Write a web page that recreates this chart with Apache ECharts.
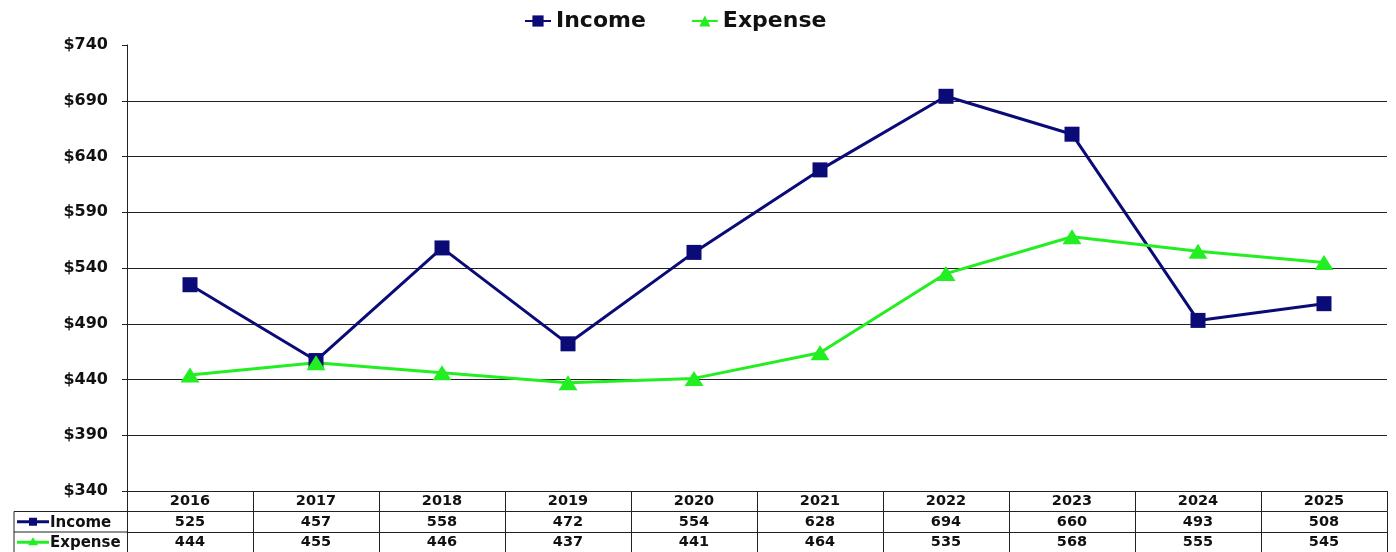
<!DOCTYPE html>
<html>
<head>
<meta charset="utf-8">
<script src="https://cdn.jsdelivr.net/npm/echarts@6/dist/echarts.min.js"></script>
<style>
  html, body { margin: 0; padding: 0; background: #fff; }
  #chart { width: 1396px; height: 552px; }
</style>
</head>
<body>
<div id="chart"></div>
<script>
// Yearly income vs expense, with a data table under the plot
const years = ['2016', '2017', '2018', '2019', '2020', '2021', '2022', '2023', '2024', '2025'];
const income = [525, 457, 558, 472, 554, 628, 694, 660, 493, 508];
const expense = [444, 455, 446, 437, 441, 464, 535, 568, 555, 545];
const seriesNames = ['Income', 'Expense'];
const yMin = 340, yMax = 740, yStep = 50;

const NAVY = '#0b0b78';
const LIME = '#22ee22';
const FONT = 'DejaVu Sans';

const chart = echarts.init(document.getElementById('chart'));

const GRID = { left: 127, right: 9, top: 45, bottom: 61 };
const ROW_H = 20.5;

// one category axis per table row; its ticks draw the cell walls
function tableAxis(labels, offset, showLabels) {
  return {
    type: 'category',
    gridIndex: 0,
    position: 'bottom',
    offset: offset,
    data: labels,
    boundaryGap: true,
    axisLine: { show: true, lineStyle: { color: '#222', width: 1 } },
    axisTick: { show: true, length: ROW_H, interval: 0, lineStyle: { color: '#222', width: 1 } },
    axisLabel: {
      show: showLabels, interval: 0, margin: 3,
      fontFamily: FONT, fontWeight: 'bold', fontSize: 14.5, color: '#111'
    },
    splitLine: { show: false }
  };
}

const rowY = (i) => 552 - GRID.bottom + ROW_H * i; // top edge of table row i

const option = {
  backgroundColor: '#fff',
  animation: false,
  legend: {
    left: 519,
    top: 5,
    itemWidth: 26,
    itemHeight: 14,
    itemGap: 45,
    data: seriesNames,
    textStyle: { fontFamily: FONT, fontWeight: 'bold', fontSize: 22, color: '#111', width: 100 }
  },
  grid: GRID,
  xAxis: [
    tableAxis(years, 0, true),
    tableAxis(income.map(String), ROW_H, true),
    tableAxis(expense.map(String), ROW_H * 2, true),
    Object.assign(tableAxis(years.map(() => ''), ROW_H * 3, false), { axisTick: { show: false } })
  ],
  yAxis: {
    type: 'value',
    min: yMin,
    max: yMax,
    interval: yStep,
    axisLine: { show: true, lineStyle: { color: '#222', width: 1 } },
    axisTick: { show: true, length: 5, lineStyle: { color: '#222' } },
    axisLabel: {
      margin: 19,
      formatter: (v) => '$' + v,
      fontFamily: FONT, fontWeight: 'bold', fontSize: 16, color: '#111'
    },
    splitLine: { show: true, showMaxLine: false, lineStyle: { color: '#222', width: 1 } }
  },
  series: [
    {
      name: seriesNames[0], type: 'line', data: income,
      symbol: 'rect', symbolSize: 15,
      itemStyle: { color: NAVY },
      lineStyle: { color: NAVY, width: 3 }
    },
    {
      name: seriesNames[1], type: 'line', data: expense,
      symbol: 'triangle', symbolSize: [19, 15],
      itemStyle: { color: LIME },
      lineStyle: { color: LIME, width: 3 }
    }
  ],
  graphic: []
};

// row-header cells of the table: legend key + series name
const keyColors = [NAVY, LIME];
const keySymbols = ['rect', 'triangle'];
const headerEls = [];
const L = 14, R = GRID.left;
headerEls.push({ type: 'line', shape: { x1: L, y1: rowY(1), x2: R, y2: rowY(1) }, style: { stroke: '#222', lineWidth: 1 } });
headerEls.push({ type: 'line', shape: { x1: L, y1: rowY(2), x2: R, y2: rowY(2) }, style: { stroke: '#222', lineWidth: 1 } });
headerEls.push({ type: 'line', shape: { x1: L, y1: rowY(3), x2: R, y2: rowY(3) }, style: { stroke: '#222', lineWidth: 1 } });
headerEls.push({ type: 'line', shape: { x1: L, y1: rowY(1), x2: L, y2: rowY(3) }, style: { stroke: '#222', lineWidth: 1 } });
seriesNames.forEach((name, i) => {
  const cy = rowY(i + 1) + ROW_H / 2;
  headerEls.push({ type: 'line', shape: { x1: 17, y1: cy, x2: 49, y2: cy }, style: { stroke: keyColors[i], lineWidth: 3 } });
  if (keySymbols[i] === 'rect') {
    headerEls.push({ type: 'rect', shape: { x: 29, y: cy - 4, width: 8, height: 8 }, style: { fill: keyColors[i] } });
  } else {
    headerEls.push({ type: 'polygon', shape: { points: [[33, cy - 5], [28, cy + 3], [38, cy + 3]] }, style: { fill: keyColors[i] } });
  }
  headerEls.push({
    type: 'text', x: 50, y: cy + 1,
    style: { text: name, fontFamily: FONT, fontWeight: 'bold', fontSize: 15, fill: '#111', verticalAlign: 'middle' }
  });
});
option.graphic = headerEls;

chart.setOption(option);
</script>
</body>
</html>
